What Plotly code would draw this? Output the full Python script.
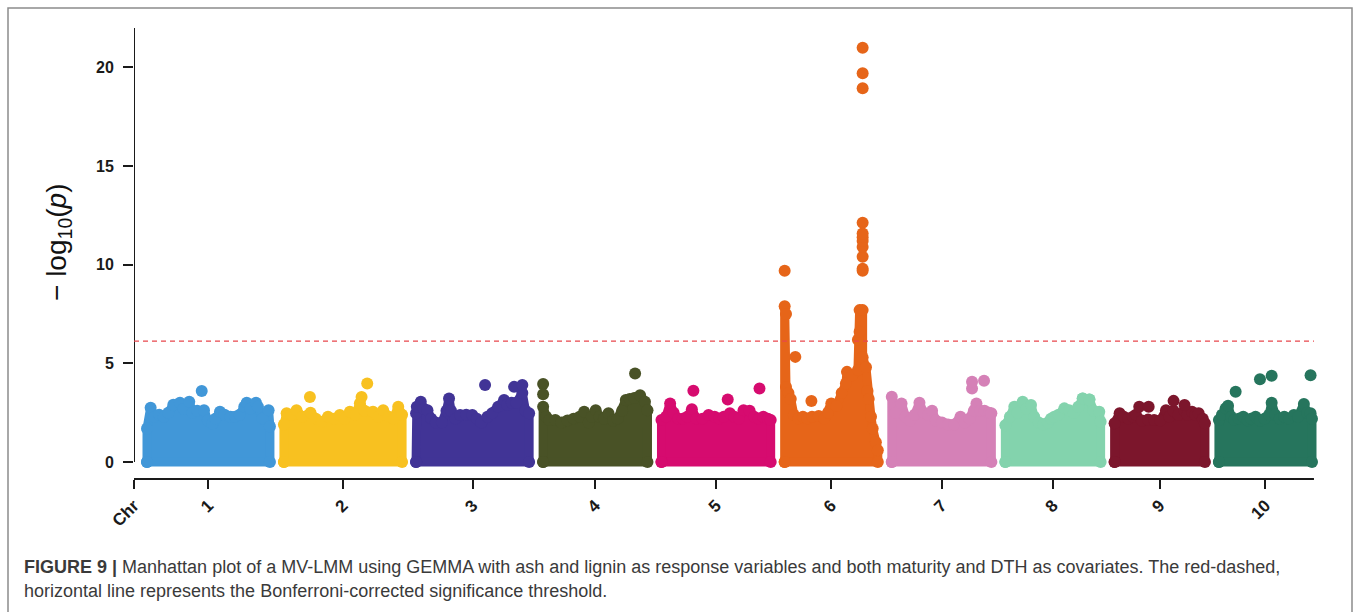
import plotly.graph_objects as go

# ---- chromosome layout (Sorghum bicolor, Mb) ----
CHROM_NAMES = ["1", "2", "3", "4", "5", "6", "7", "8", "9", "10"]
CHROM_LEN_MB = [80.88, 77.74, 74.39, 68.66, 71.85, 61.28, 65.51, 62.69, 59.42, 61.23]
CHROM_COLORS = ["#4197d8", "#f8c120", "#413496", "#495226", "#d60b6f",
                "#e66519", "#d581b7", "#83d3ad", "#7c162c", "#26755d"]
CHROM_GAP_MB = 9.2
THRESHOLD = 6.13  # Bonferroni-corrected -log10(p)

# ---- upper edge of the dense SNP cloud per chromosome: (position Mb, -log10 p) ----
CHR1_EDGE = [(0.0, 1.7), (2.4, 2.75), (5.0, 2.3), (8.0, 2.4), (11.0, 2.3), (14.0, 2.5), (17.3, 2.9),
             (21.7, 3.0), (24.0, 2.7), (27.8, 3.05), (30.0, 2.5), (33.0, 2.6), (37.5, 2.63), (40.0, 2.1),
             (43.0, 1.95), (45.0, 2.2), (48.0, 2.55), (51.0, 2.4), (55.0, 2.3), (58.0, 2.3), (61.0, 2.4),
             (64.0, 2.8), (65.6, 3.0), (68.0, 2.7), (71.7, 3.0), (73.0, 2.8), (76.0, 2.2), (80.0, 2.63),
             (80.88, 1.8)]
CHR2_EDGE = [(0.0, 1.9), (1.8, 2.47), (5.0, 2.4), (8.3, 2.63), (12.0, 2.3), (17.5, 2.5), (21.0, 2.2),
             (25.0, 2.04), (29.0, 2.3), (33.0, 2.2), (36.8, 2.38), (40.0, 2.2), (43.4, 2.55), (47.0, 2.4),
             (50.0, 2.98), (53.0, 2.6), (58.6, 2.55), (62.0, 2.3), (65.3, 2.63), (69.0, 2.3), (72.0, 2.2),
             (75.2, 2.8), (77.74, 2.4)]
CHR3_EDGE = [(0.0, 2.47), (0.5, 2.8), (3.1, 3.05), (5.0, 2.7), (7.5, 2.63), (10.0, 2.2), (13.0, 2.0),
             (17.0, 2.0), (20.0, 2.6), (21.7, 3.22), (23.0, 2.6), (26.0, 2.2), (29.0, 2.38), (33.0, 2.4),
             (37.0, 2.38), (40.0, 2.2), (43.0, 2.0), (47.0, 2.3), (50.0, 2.47), (54.0, 2.8), (57.9, 3.14),
             (60.0, 2.9), (63.0, 3.0), (66.0, 3.0), (69.9, 3.5), (72.0, 2.6), (74.39, 2.47)]
CHR4_EDGE = [(0.0, 2.8), (2.0, 2.3), (4.0, 2.13), (8.0, 2.13), (12.0, 2.0), (16.0, 2.1), (20.0, 2.2),
             (24.0, 2.3), (27.0, 2.55), (30.0, 2.0), (32.0, 2.3), (34.6, 2.63), (37.0, 2.3), (40.0, 2.2),
             (43.0, 2.47), (46.0, 2.1), (49.0, 2.2), (52.0, 2.6), (54.4, 3.14), (57.0, 3.2), (60.0, 3.25),
             (63.8, 3.39), (67.0, 3.05), (68.66, 2.63)]
CHR5_EDGE = [(0.0, 2.13), (3.0, 2.3), (5.7, 2.97), (8.0, 2.5), (11.0, 2.2), (14.0, 2.2), (17.0, 2.3),
             (20.0, 2.67), (23.0, 2.2), (27.0, 2.2), (31.0, 2.38), (35.0, 2.3), (38.0, 2.2), (41.0, 2.3),
             (45.0, 2.47), (48.0, 2.3), (51.0, 2.2), (54.0, 2.63), (58.0, 2.6), (61.0, 2.3), (64.0, 2.2),
             (67.0, 2.3), (70.0, 2.2), (71.85, 2.13)]
CHR6_EDGE = [(0.0, 7.9), (0.9, 7.5), (0.9, 3.8), (2.5, 3.5), (4.0, 3.2), (6.0, 2.4), (9.0, 2.2),
             (12.0, 2.3), (15.0, 2.2), (18.0, 2.3), (22.4, 2.33), (26.0, 2.2), (28.5, 2.5), (30.7, 2.97),
             (34.0, 2.84), (37.5, 3.5), (40.3, 3.98), (41.0, 4.57), (44.5, 4.4), (48.2, 4.66), (48.2, 6.2),
             (49.3, 6.6), (49.3, 7.7), (51.3, 7.7), (51.3, 5.3), (53.5, 4.8), (54.5, 3.6), (55.3, 3.2),
             (56.8, 2.3), (57.9, 1.7), (60.0, 1.0), (61.28, 0.6)]
CHR7_EDGE = [(0.0, 3.31), (2.5, 2.5), (6.4, 2.97), (9.0, 2.3), (12.0, 2.1), (15.0, 2.4), (18.2, 3.0),
             (21.0, 2.5), (24.0, 2.4), (26.5, 2.6), (29.0, 2.1), (33.0, 2.0), (37.0, 1.9), (41.0, 1.9),
             (45.2, 2.3), (48.0, 2.0), (51.0, 2.2), (54.0, 2.6), (55.7, 2.97), (58.0, 2.6), (61.0, 2.6),
             (64.0, 2.5), (65.51, 2.47)]
CHR8_EDGE = [(0.0, 1.87), (3.0, 2.3), (5.9, 2.8), (8.0, 2.5), (11.4, 3.05), (14.0, 2.7), (16.9, 2.89),
             (19.0, 2.3), (22.0, 2.0), (25.0, 1.9), (28.0, 2.0), (30.0, 2.2), (32.2, 2.3), (35.0, 2.4),
             (38.8, 2.72), (42.0, 2.63), (45.0, 2.5), (48.0, 2.8), (50.9, 3.22), (55.3, 3.17), (58.0, 2.6),
             (61.8, 2.55), (62.69, 2.04)]
CHR9_EDGE = [(0.0, 1.96), (3.3, 2.47), (6.0, 2.3), (9.0, 2.2), (12.0, 2.3), (14.0, 2.4), (18.0, 2.1),
             (22.0, 2.15), (26.0, 2.13), (30.0, 2.1), (33.8, 2.63), (36.0, 2.3), (38.8, 2.6), (42.0, 2.4),
             (46.0, 2.6), (48.0, 2.4), (50.9, 2.55), (53.0, 2.4), (55.3, 2.47), (58.0, 2.2), (59.42, 1.96)]
CHR10_EDGE = [(0.0, 2.13), (2.0, 2.4), (4.4, 2.72), (6.0, 2.85), (8.0, 2.3), (10.0, 2.13), (13.0, 2.2),
              (16.0, 2.3), (19.0, 2.1), (21.0, 2.2), (24.1, 2.3), (27.0, 2.1), (30.0, 2.2), (33.0, 2.4),
              (34.7, 3.0), (37.0, 2.4), (40.0, 2.2), (43.0, 2.3), (46.0, 2.2), (49.3, 2.38), (52.0, 2.3),
              (55.9, 2.94), (58.0, 2.5), (60.3, 2.47), (61.23, 2.2)]

# ---- individual SNPs standing clear of the cloud: (position Mb, -log10 p) ----
CHR1_PEAKS = [(36.0, 3.6)]
CHR2_PEAKS = [(17.1, 3.3), (51.1, 3.3), (54.8, 3.98)]
CHR3_PEAKS = [(45.4, 3.9), (64.5, 3.81), (69.9, 3.9)]
CHR4_PEAKS = [(0.0, 3.95), (0.0, 3.43), (60.5, 4.49)]
CHR5_PEAKS = [(21.0, 3.61), (43.6, 3.17), (64.5, 3.73)]
CHR6_PEAKS = [(0.0, 9.69), (7.0, 5.33), (17.6, 3.09), (51.3, 9.69), (51.3, 9.8), (51.3, 10.4),
              (51.3, 10.9), (51.3, 11.2), (51.3, 11.4), (51.3, 11.58), (51.3, 12.13),
              (51.3, 18.95), (51.3, 19.71), (51.3, 21.0)]
CHR7_PEAKS = [(52.8, 3.73), (52.8, 4.07), (60.7, 4.12)]
CHR8_PEAKS = [(50.9, 3.22), (55.3, 3.17)]
CHR9_PEAKS = [(16.2, 2.8), (22.4, 2.8), (38.8, 3.1), (46.0, 2.89)]
CHR10_PEAKS = [(11.0, 3.56), (27.0, 4.2), (34.7, 4.37), (60.3, 4.4)]

EDGES = [CHR1_EDGE, CHR2_EDGE, CHR3_EDGE, CHR4_EDGE, CHR5_EDGE,
         CHR6_EDGE, CHR7_EDGE, CHR8_EDGE, CHR9_EDGE, CHR10_EDGE]
PEAKS = [CHR1_PEAKS, CHR2_PEAKS, CHR3_PEAKS, CHR4_PEAKS, CHR5_PEAKS,
         CHR6_PEAKS, CHR7_PEAKS, CHR8_PEAKS, CHR9_PEAKS, CHR10_PEAKS]

CAPTION_1 = ("<b>FIGURE 9 |</b> Manhattan plot of a MV-LMM using GEMMA with ash and lignin as response "
             "variables and both maturity and DTH as covariates. The red-dashed,")
CAPTION_2 = "horizontal line represents the Bonferroni-corrected significance threshold."

# ---- geometry ----
W, H = 1358, 612
ML, MR, MT, MB = 134, 28, 28, 133
PW, PH = W - ML - MR, H - MT - MB
POINT_SIZE = 12
CLOUD_STROKE = 9

offsets, acc = [], 0.0
for length in CHROM_LEN_MB:
    offsets.append(acc)
    acc += length + CHROM_GAP_MB
genome_end = offsets[-1] + CHROM_LEN_MB[-1]

X_MIN, X_MAX = -8.55, 778.3
Y_MIN, Y_MAX, Y_TOP = -0.86, 22.0, 22.0
axis_end = genome_end + 1.3


def px_x(px):
    return (px - ML) / PW


def px_y(py):
    return (H - MB - py) / PH


fig = go.Figure()

for i, (edge, peaks) in enumerate(zip(EDGES, PEAKS)):
    col = CHROM_COLORS[i]
    off = offsets[i]
    xs = [off + p for p, _ in edge]
    ys = [v for _, v in edge]
    # cloud outline closed down to the baseline
    cx = [xs[0]] + xs + [xs[-1], xs[0]]
    cy = [0.0] + ys + [0.0, 0.0]
    fig.add_trace(go.Scatter(
        x=cx, y=cy, mode="lines+markers", fill="toself", fillcolor=col,
        line=dict(color=col, width=CLOUD_STROKE),
        marker=dict(color=col, size=POINT_SIZE, line=dict(width=0)),
        hoverinfo="skip", showlegend=False, cliponaxis=False,
    ))
    if peaks:
        fig.add_trace(go.Scatter(
            x=[off + p for p, _ in peaks], y=[v for _, v in peaks], mode="markers",
            marker=dict(color=col, size=POINT_SIZE, line=dict(width=0)),
            hoverinfo="skip", showlegend=False, cliponaxis=False,
        ))

tick_vals = [X_MIN] + [offsets[i] + CHROM_LEN_MB[i] / 2 for i in range(len(CHROM_NAMES))]
tick_text = ["Chr"] + CHROM_NAMES

AXIS_COL = "#1a1a1a"
FONT = "Liberation Sans, Arial, sans-serif"
shapes = [
    # y axis line
    dict(type="line", xref="x", yref="y", x0=X_MIN, x1=X_MIN, y0=0, y1=Y_TOP,
         line=dict(color=AXIS_COL, width=2)),
    # x axis line
    dict(type="line", xref="x", yref="paper", x0=X_MIN, x1=axis_end, y0=0, y1=0,
         line=dict(color=AXIS_COL, width=2)),
    # significance threshold
    dict(type="line", xref="x", yref="y", x0=X_MIN, x1=axis_end, y0=THRESHOLD, y1=THRESHOLD,
         line=dict(color="#e8474c", width=1.4, dash="5px,4px")),
    # figure frame
    dict(type="rect", xref="paper", yref="paper", x0=px_x(8), x1=px_x(1352), y0=px_y(640), y1=px_y(8),
         line=dict(color="#8c8c8c", width=1.5), fillcolor="rgba(0,0,0,0)"),
]

annotations = [
    dict(text="\u2212 log<sub>10</sub>(<i>p</i>)", xref="paper", yref="paper",
         x=px_x(58), y=px_y(242), textangle=-90, showarrow=False,
         font=dict(family=FONT, size=28, color="#111111"),
         xanchor="center", yanchor="middle"),
    dict(text=CAPTION_1, xref="paper", yref="paper", x=px_x(22), y=px_y(567),
         xanchor="left", yanchor="middle", showarrow=False, align="left",
         font=dict(family=FONT, size=18, color="#3a3a3a")),
    dict(text=CAPTION_2, xref="paper", yref="paper", x=px_x(22), y=px_y(591),
         xanchor="left", yanchor="middle", showarrow=False, align="left",
         font=dict(family=FONT, size=18, color="#3a3a3a")),
]

fig.update_layout(
    width=W, height=H,
    margin=dict(l=ML, r=MR, t=MT, b=MB, pad=0),
    paper_bgcolor="white", plot_bgcolor="white",
    showlegend=False,
    shapes=shapes,
    annotations=annotations,
    xaxis=dict(range=[X_MIN, X_MAX], showgrid=False, zeroline=False, showline=False,
               tickmode="array", tickvals=tick_vals, ticktext=tick_text, tickangle=-45,
               ticks="outside", ticklen=9, tickwidth=2, tickcolor=AXIS_COL,
               tickfont=dict(family=FONT, size=17, color=AXIS_COL, weight="bold"),
               fixedrange=True),
    yaxis=dict(range=[Y_MIN, Y_MAX], showgrid=False, zeroline=False, showline=False,
               tickmode="array", tickvals=[0, 5, 10, 15, 20],
               ticks="outside", ticklen=10, tickwidth=2, tickcolor=AXIS_COL,
               ticklabelstandoff=6,
               tickfont=dict(family=FONT, size=16, color=AXIS_COL, weight="bold"),
               fixedrange=True),
)

ROUND_JOINS = ("document.querySelectorAll('.scatterlayer .js-line').forEach(function(p){"
               "p.style.strokeLinejoin='round';p.style.strokeLinecap='round';});")

fig.write_html("out.html", post_script=ROUND_JOINS)
